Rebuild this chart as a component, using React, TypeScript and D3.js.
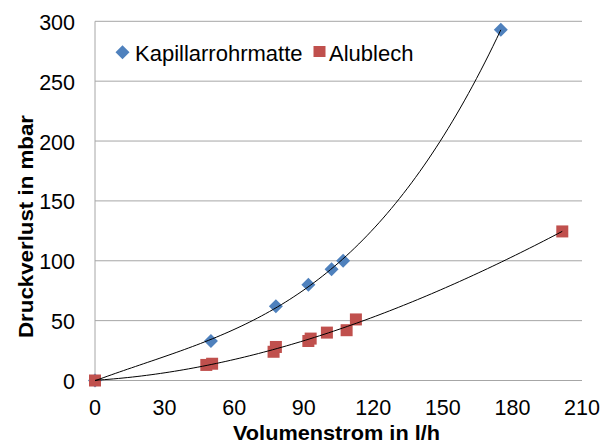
import React from "react";
import * as d3 from "d3";

const xKap = [0, 50, 78, 92, 102, 107, 175];
const yKap = [0, 33, 62, 80, 93, 100, 293];
const xAlu = [0, 48, 50.5, 77, 78, 92, 93, 100, 108.5, 112.5, 201.5];
const yAlu = [0, 13, 14, 24, 28, 33, 35, 40, 42, 51, 124.5];
const xTicks = [0, 30, 60, 90, 120, 150, 180, 210];
const yTicks = [0, 50, 100, 150, 200, 250, 300];
const seriesNames = ["Kapillarrohrmatte", "Alublech"];

function polyfit(xs: number[], ys: number[], deg: number): number[] {
  const n = deg + 1;
  const A: number[][] = Array.from({ length: n }, () => new Array(n + 1).fill(0));
  for (let k = 0; k < xs.length; k++) {
    for (let i = 0; i < n; i++) {
      for (let j = 0; j < n; j++) A[i][j] += Math.pow(xs[k], i + j);
      A[i][n] += ys[k] * Math.pow(xs[k], i);
    }
  }
  for (let i = 0; i < n; i++) {
    let p = i;
    for (let r = i + 1; r < n; r++) if (Math.abs(A[r][i]) > Math.abs(A[p][i])) p = r;
    [A[i], A[p]] = [A[p], A[i]];
    for (let r = 0; r < n; r++) {
      if (r === i) continue;
      const f = A[r][i] / A[i][i];
      for (let c = i; c <= n; c++) A[r][c] -= f * A[i][c];
    }
  }
  return A.map((row, i) => row[n] / row[i]);
}

export default function App() {
  const W = 601, H = 443;
  const x = d3.scaleLinear().domain([0, 210]).range([95, 582]);
  const y = d3.scaleLinear().domain([0, 300]).range([380.5, 21.3]);
  const font = "'Liberation Sans', Arial, sans-serif";
  const blue = "#4F81BD", red = "#C0504D";

  const trend = (xs: number[], ys: number[]) => {
    const c = polyfit(xs, ys, 3);
    const xmax = d3.max(xs) as number;
    const pts = d3.range(0, xmax + 0.001, xmax / 100).map((v) => [v, c.reduce((s, a, i) => s + a * Math.pow(v, i), 0)] as [number, number]);
    return d3.line<[number, number]>().x((d) => x(d[0])).y((d) => y(d[1]))(pts) || "";
  };

  const diamond = (cx: number, cy: number, r: number) => `M${cx},${cy - r}L${cx + r},${cy}L${cx},${cy + r}L${cx - r},${cy}Z`;

  return (
    <svg width={W} height={H} style={{ position: "absolute", left: 0, top: 0, background: "#fff" }}>
      {yTicks.map((t) => (
        <line key={"g" + t} x1={x(0)} x2={x(210)} y1={y(t)} y2={y(t)} stroke="#a6a6a6" strokeWidth={1} />
      ))}
      <line x1={x(0)} x2={x(0)} y1={y(300)} y2={y(0)} stroke="#a6a6a6" strokeWidth={1} />
      {yTicks.map((t) => (
        <text key={"yt" + t} x={75} y={y(t) + 8.5} textAnchor="end" fontFamily={font} fontSize={21.5} fill="#000">{t}</text>
      ))}
      {xTicks.map((t) => (
        <text key={"xt" + t} x={x(t)} y={415} textAnchor="middle" fontFamily={font} fontSize={21.5} fill="#000">{t}</text>
      ))}
      <text x={336.5} y={440} textAnchor="middle" fontFamily={font} fontSize={21} fontWeight="bold" textLength={207} lengthAdjust="spacingAndGlyphs">Volumenstrom in l/h</text>
      <text transform="translate(33,226.5) rotate(-90)" textAnchor="middle" fontFamily={font} fontSize={21} fontWeight="bold" textLength={223} lengthAdjust="spacingAndGlyphs">Druckverlust in mbar</text>

      {xKap.map((v, i) => (
        <path key={"k" + i} d={diamond(x(v), y(yKap[i]), 7)} fill={blue} />
      ))}
      {xAlu.map((v, i) => (
        <rect key={"a" + i} x={x(v) - 6} y={y(yAlu[i]) - 6} width={12} height={12} fill={red} />
      ))}
      <path d={trend(xKap, yKap)} fill="none" stroke="#000" strokeWidth={1} />
      <path d={trend(xAlu, yAlu)} fill="none" stroke="#000" strokeWidth={1} />

      <path d={diamond(122.5, 52.3, 7)} fill={blue} />
      <text x={135} y={60.5} fontFamily={font} fontSize={22} fill="#000">{seriesNames[0]}</text>
      <rect x={313.5} y={46} width={12} height={11} fill={red} />
      <text x={329} y={60.5} fontFamily={font} fontSize={22} fill="#000">{seriesNames[1]}</text>
    </svg>
  );
}
